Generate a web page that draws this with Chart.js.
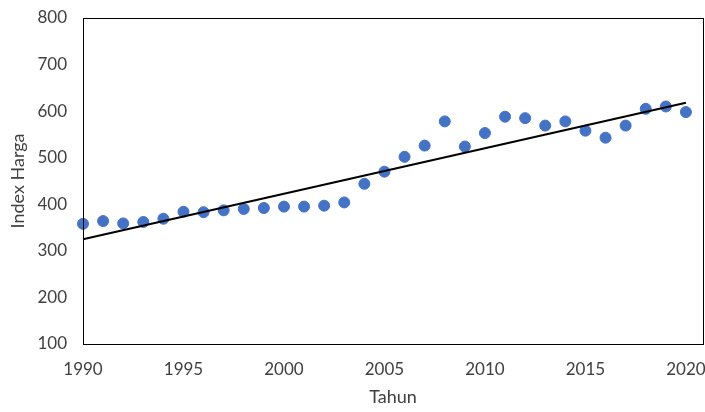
<!DOCTYPE html>
<html>
<head>
<meta charset="utf-8">
<script src="https://cdn.jsdelivr.net/npm/chart.js@4"></script>
<style>
  html, body { margin: 0; padding: 0; background: #fff; }
  #wrap { width: 705px; height: 412px; }
</style>
</head>
<body>
<div id="wrap"><canvas id="chart" width="705" height="412"></canvas></div>
<script>
// data
const years = [1990, 1991, 1992, 1993, 1994, 1995, 1996, 1997, 1998, 1999,
               2000, 2001, 2002, 2003, 2004, 2005, 2006, 2007, 2008, 2009,
               2010, 2011, 2012, 2013, 2014, 2015, 2016, 2017, 2018, 2019, 2020];
const indexHarga = [358, 364, 359, 362, 369, 384, 383, 387, 390, 392,
                    395, 395, 397, 404, 444, 470, 502, 526, 578, 524,
                    553, 588, 585, 569, 578, 558, 543, 569, 605, 610, 598];
// trend line ends (1990, 2020)
const trendYears = [1990, 2020];
const trendValues = [325, 618];
const xTicks = [1990, 1995, 2000, 2005, 2010, 2015, 2020];
const yTicks = [100, 200, 300, 400, 500, 600, 700, 800];

const textColor = '#404040';
const fontFamily = 'Lato, "Open Sans", sans-serif';

// plot area reaches almost to the right edge, like the original
const stretchRight = {
    id: 'stretchRight',
    afterLayout(chart) {
        const right = chart.width - 2;
        const x = chart.scales.x;
        chart.chartArea.right = right;
        chart.chartArea.width = right - chart.chartArea.left;
        x.right = right;
        x.width = right - x.left;
        x.configure();
    }
};

// box round the plot area
const frame = {
    id: 'frame',
    afterDraw(chart) {
        const a = chart.chartArea;
        const ctx = chart.ctx;
        ctx.save();
        ctx.strokeStyle = '#000';
        ctx.lineWidth = 1;
        ctx.strokeRect(Math.round(a.left) + 0.5, Math.round(a.top) + 0.5,
                       Math.round(a.right - a.left), Math.round(a.bottom - a.top));
        ctx.restore();
    }
};

new Chart(document.getElementById('chart'), {
    type: 'scatter',
    data: {
        datasets: [{
            label: 'Index Harga',
            data: years.map((y, i) => ({ x: y, y: indexHarga[i] })),
            backgroundColor: '#4472C4',
            borderColor: '#4472C4',
            pointRadius: 5.5,
            pointHoverRadius: 5.5,
            clip: false,
            order: 2
        }, {
            type: 'line',
            label: 'Trend',
            data: trendYears.map((y, i) => ({ x: y, y: trendValues[i] })),
            borderColor: '#000',
            borderWidth: 2,
            pointRadius: 0,
            fill: false,
            clip: false,
            order: 1
        }]
    },
    options: {
        responsive: false,
        animation: false,
        events: [],
        layout: { padding: { top: 18, right: 2, left: 0, bottom: 0 } },
        plugins: { legend: { display: false }, tooltip: { enabled: false } },
        scales: {
            x: {
                type: 'linear',
                min: 1990,
                max: 2020.85,
                afterBuildTicks: s => { s.ticks = xTicks.map(v => ({ value: v })); },
                afterFit: s => { s.height = 68; s.paddingLeft = 0; s.paddingRight = 0; },
                grid: { display: false, drawTicks: false },
                border: { display: false },
                ticks: { color: textColor, font: { family: fontFamily, size: 17 }, padding: 15,
                         maxRotation: 0, callback: v => String(v) },
                title: { display: true, text: 'Tahun', color: textColor,
                         font: { family: fontFamily, size: 18 }, padding: { top: 5 } }
            },
            y: {
                min: 100,
                max: 800,
                afterBuildTicks: s => { s.ticks = yTicks.map(v => ({ value: v })); },
                afterFit: s => { s.width = 83; s.paddingTop = 0; s.paddingBottom = 0; },
                grid: { display: false, drawTicks: false },
                border: { display: false },
                ticks: { color: textColor, font: { family: fontFamily, size: 17 }, padding: 16,
                         callback: v => String(v) },
                title: { display: true, text: 'Index Harga', color: textColor,
                         font: { family: fontFamily, size: 18 }, padding: { top: 7, bottom: 0 } }
            }
        }
    },
    plugins: [stretchRight, frame]
});
</script>
</body>
</html>
